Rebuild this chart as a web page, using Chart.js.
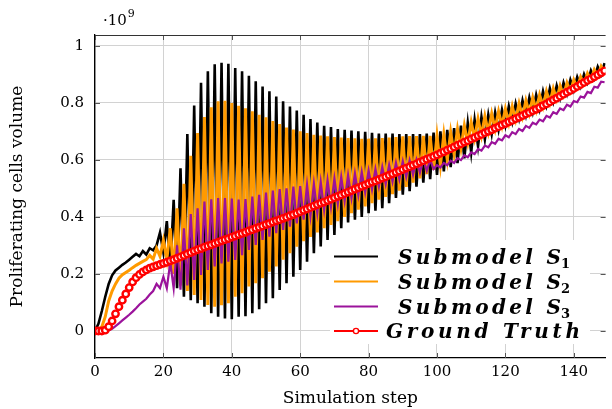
<!DOCTYPE html>
<html>
<head>
<meta charset="utf-8">
<script src="https://cdn.jsdelivr.net/npm/chart.js@4.4.1/dist/chart.umd.min.js"></script>
<style>
  html, body { margin: 0; padding: 0; background: #fff; }
  #wrap { width: 612px; height: 409px; }
</style>
</head>
<body>
<div id="wrap"><canvas id="chart" width="612" height="409"></canvas></div>
<script>
// values in units of 1e9, one per simulation step (0..149)
const s1 = [
  0, 0.025, 0.07, 0.12, 0.165, 0.195, 0.212, 0.222, 0.232, 0.24,
  0.25, 0.26, 0.27, 0.262, 0.28, 0.268, 0.29, 0.283, 0.3, 0.345,
  0.275, 0.385, 0.215, 0.46, 0.15, 0.57, 0.12, 0.69, 0.108, 0.79,
  0.097, 0.87, 0.085, 0.91, 0.062, 0.935, 0.05, 0.94, 0.044, 0.937,
  0.041, 0.922, 0.05, 0.91, 0.052, 0.895, 0.062, 0.875, 0.076, 0.857,
  0.097, 0.84, 0.115, 0.822, 0.144, 0.805, 0.167, 0.787, 0.19, 0.773,
  0.214, 0.758, 0.243, 0.743, 0.273, 0.731, 0.296, 0.719, 0.319, 0.715,
  0.337, 0.708, 0.36, 0.705, 0.38, 0.703, 0.39, 0.7, 0.4, 0.698,
  0.413, 0.695, 0.422, 0.692, 0.43, 0.692, 0.448, 0.692, 0.466, 0.69,
  0.478, 0.69, 0.49, 0.69, 0.506, 0.69, 0.52, 0.692, 0.532, 0.695,
  0.547, 0.7, 0.559, 0.705, 0.574, 0.711, 0.588, 0.72, 0.605, 0.729,
  0.625, 0.74, 0.648, 0.75, 0.672, 0.758, 0.69, 0.766, 0.705, 0.775,
  0.72, 0.787, 0.733, 0.797, 0.745, 0.808, 0.756, 0.818, 0.767, 0.828,
  0.778, 0.84, 0.791, 0.85, 0.804, 0.86, 0.817, 0.87, 0.831, 0.88,
  0.844, 0.89, 0.857, 0.9, 0.871, 0.913, 0.885, 0.926, 0.899, 0.939
];
const s2 = [
  0, 0, 0.015, 0.05, 0.105, 0.14, 0.165, 0.185, 0.197, 0.205,
  0.213, 0.222, 0.23, 0.237, 0.244, 0.25, 0.265, 0.252, 0.29, 0.262,
  0.318, 0.25, 0.36, 0.2, 0.43, 0.16, 0.516, 0.14, 0.614, 0.126,
  0.694, 0.109, 0.75, 0.091, 0.784, 0.085, 0.805, 0.09, 0.807, 0.097,
  0.799, 0.12, 0.789, 0.132, 0.781, 0.156, 0.77, 0.167, 0.758, 0.185,
  0.749, 0.208, 0.736, 0.226, 0.725, 0.25, 0.713, 0.273, 0.706, 0.295,
  0.7, 0.315, 0.694, 0.33, 0.688, 0.345, 0.685, 0.36, 0.682, 0.372,
  0.68, 0.385, 0.678, 0.4, 0.676, 0.413, 0.675, 0.425, 0.674, 0.437,
  0.674, 0.448, 0.675, 0.46, 0.676, 0.47, 0.678, 0.48, 0.68, 0.492,
  0.682, 0.505, 0.683, 0.52, 0.683, 0.535, 0.684, 0.55, 0.684, 0.565,
  0.685, 0.58, 0.69, 0.6, 0.698, 0.62, 0.708, 0.64, 0.72, 0.66,
  0.732, 0.675, 0.744, 0.685, 0.753, 0.697, 0.762, 0.708, 0.77, 0.719,
  0.779, 0.729, 0.788, 0.74, 0.798, 0.751, 0.808, 0.763, 0.818, 0.774,
  0.828, 0.786, 0.84, 0.799, 0.85, 0.812, 0.86, 0.826, 0.87, 0.839,
  0.88, 0.853, 0.891, 0.867, 0.903, 0.88, 0.916, 0.894, 0.928, 0.908
];
const s3 = [
  0, 0, 0, 0, 0.002, 0.008, 0.017, 0.027, 0.037, 0.047,
  0.057, 0.068, 0.08, 0.093, 0.103, 0.113, 0.128, 0.14, 0.165, 0.15,
  0.19, 0.15, 0.24, 0.15, 0.3, 0.145, 0.36, 0.16, 0.41, 0.179,
  0.43, 0.196, 0.454, 0.214, 0.462, 0.226, 0.466, 0.237, 0.466, 0.243,
  0.464, 0.249, 0.461, 0.266, 0.462, 0.284, 0.471, 0.302, 0.477, 0.319,
  0.485, 0.331, 0.492, 0.343, 0.497, 0.354, 0.5, 0.366, 0.506, 0.377,
  0.508, 0.39, 0.512, 0.403, 0.516, 0.414, 0.522, 0.425, 0.528, 0.436,
  0.534, 0.446, 0.54, 0.456, 0.546, 0.466, 0.552, 0.476, 0.557, 0.486,
  0.562, 0.496, 0.568, 0.506, 0.575, 0.515, 0.582, 0.524, 0.589, 0.532,
  0.595, 0.54, 0.598, 0.548, 0.6, 0.555, 0.602, 0.562, 0.6, 0.568,
  0.581, 0.573, 0.589, 0.581, 0.597, 0.589, 0.606, 0.599, 0.616, 0.609,
  0.626, 0.62, 0.638, 0.632, 0.65, 0.644, 0.662, 0.656, 0.674, 0.668,
  0.686, 0.679, 0.697, 0.69, 0.708, 0.701, 0.719, 0.712, 0.73, 0.724,
  0.741, 0.735, 0.754, 0.748, 0.767, 0.761, 0.78, 0.774, 0.793, 0.787,
  0.806, 0.802, 0.822, 0.818, 0.838, 0.834, 0.856, 0.853, 0.874, 0.872
];
const groundTruth = [
  0, 0, 0, 0.003, 0.015, 0.035, 0.06, 0.085, 0.108, 0.13,
  0.152, 0.172, 0.187, 0.198, 0.207, 0.214, 0.22, 0.225, 0.229, 0.233,
  0.237, 0.241, 0.246, 0.25, 0.255, 0.26, 0.265, 0.27, 0.275, 0.28,
  0.285, 0.289, 0.294, 0.298, 0.302, 0.307, 0.311, 0.316, 0.32, 0.324,
  0.329, 0.333, 0.338, 0.342, 0.346, 0.351, 0.355, 0.36, 0.364, 0.368,
  0.373, 0.377, 0.382, 0.386, 0.39, 0.395, 0.399, 0.404, 0.408, 0.413,
  0.418, 0.423, 0.428, 0.433, 0.438, 0.443, 0.448, 0.452, 0.457, 0.462,
  0.467, 0.472, 0.477, 0.482, 0.487, 0.492, 0.497, 0.502, 0.507, 0.512,
  0.517, 0.522, 0.526, 0.531, 0.536, 0.541, 0.546, 0.551, 0.556, 0.561,
  0.566, 0.571, 0.576, 0.581, 0.586, 0.592, 0.597, 0.602, 0.607, 0.612,
  0.617, 0.623, 0.628, 0.634, 0.639, 0.645, 0.651, 0.656, 0.662, 0.667,
  0.673, 0.678, 0.684, 0.689, 0.695, 0.7, 0.705, 0.711, 0.716, 0.722,
  0.727, 0.733, 0.738, 0.744, 0.749, 0.755, 0.761, 0.766, 0.772, 0.777,
  0.783, 0.79, 0.796, 0.803, 0.81, 0.816, 0.823, 0.83, 0.837, 0.843,
  0.85, 0.857, 0.864, 0.871, 0.878, 0.884, 0.891, 0.898, 0.905, 0.912
];

const xTicks = [0, 20, 40, 60, 80, 100, 120, 140];
const yTicks = [0, 0.2, 0.4, 0.6, 0.8, 1];
const yTickLabels = ['0', '0.2', '0.4', '0.6', '0.8', '1'];
const seriesNames = ['Submodel S', 'Submodel S', 'Submodel S', 'Ground Truth'];
const seriesSubs = ['1', '2', '3', ''];

const SERIF = '"DejaVu Serif", "Liberation Serif", serif';
const colors = ['#000000', '#ff9a00', '#9b139b', '#ff0000'];

function toPoints(arr) {
  return arr.map((v, i) => ({ x: i, y: v }));
}

// inward tick marks, frame, exponent label and legend
const decorations = {
  id: 'decorations',
  beforeDatasetsDraw(chart) {
    const { ctx, chartArea: a, scales: { x, y } } = chart;
    ctx.save();
    ctx.strokeStyle = '#555';
    ctx.lineWidth = 1;
    ctx.beginPath();
    xTicks.forEach(v => {
      const px = Math.round(x.getPixelForValue(v)) + 0.5;
      ctx.moveTo(px, a.bottom); ctx.lineTo(px, a.bottom - 5);
      ctx.moveTo(px, a.top); ctx.lineTo(px, a.top + 5);
    });
    yTicks.forEach(v => {
      const py = Math.round(y.getPixelForValue(v)) + 0.5;
      ctx.moveTo(a.left, py); ctx.lineTo(a.left + 5, py);
      ctx.moveTo(a.right, py); ctx.lineTo(a.right - 5, py);
    });
    ctx.stroke();
    ctx.restore();
  },
  afterDraw(chart) {
    const { ctx, chartArea: a } = chart;
    ctx.save();

    // top frame line
    ctx.strokeStyle = '#333';
    ctx.lineWidth = 1.2;
    ctx.beginPath();
    ctx.moveTo(a.left, a.top + 0.5);
    ctx.lineTo(a.right, a.top + 0.5);
    ctx.stroke();

    // exponent
    ctx.fillStyle = '#000';
    ctx.textBaseline = 'alphabetic';
    ctx.textAlign = 'left';
    ctx.font = '15px ' + SERIF;
    ctx.fillText('·10', 103, 25);
    const w = ctx.measureText('·10').width;
    ctx.font = '11px ' + SERIF;
    ctx.fillText('9', 103 + w + 1, 17);

    // legend
    const box = { left: 330, top: 240, right: 590, bottom: 344 };
    ctx.fillStyle = '#fff';
    ctx.fillRect(box.left, box.top, box.right - box.left, box.bottom - box.top);

    const rows = [256.5, 281.5, 306.5, 331];
    const textStart = [398, 398, 398, 386];
    const textEnd = [570, 570, 570, 580];
    const mainFont = 'italic bold 20px ' + SERIF;
    const subFont = 'bold 13px ' + SERIF;
    chart.data.datasets.forEach((ds, i) => {
      const ly = rows[i];
      ctx.strokeStyle = ds.borderColor;
      ctx.lineWidth = 2;
      ctx.beginPath();
      ctx.moveTo(334, ly);
      ctx.lineTo(378, ly);
      ctx.stroke();
      if (ds.pointRadius > 0) {
        ctx.beginPath();
        ctx.arc(356, ly, 2.6, 0, Math.PI * 2);
        ctx.fillStyle = '#fff';
        ctx.fill();
        ctx.lineWidth = 1.4;
        ctx.stroke();
      }
      const name = seriesNames[i];
      const sub = seriesSubs[i];
      ctx.fillStyle = '#000';
      ctx.letterSpacing = '0px';
      let subW = 0;
      if (sub) {
        ctx.font = subFont;
        subW = ctx.measureText(sub).width;
      }
      ctx.font = mainFont;
      const natural = ctx.measureText(name).width;
      const target = textEnd[i] - textStart[i] - subW;
      const spacing = Math.max(0, (target - natural) / (name.length - 1));
      ctx.letterSpacing = spacing.toFixed(2) + 'px';
      ctx.fillText(name, textStart[i], ly + 7);
      if (sub) {
        ctx.letterSpacing = '0px';
        ctx.font = subFont;
        ctx.fillText(sub, textEnd[i] - subW, ly + 11);
      }
    });
    ctx.restore();
  }
};

const ctx = document.getElementById('chart').getContext('2d');
new Chart(ctx, {
  type: 'line',
  data: {
    datasets: [
      { label: 'S1', data: toPoints(s1), borderColor: colors[0], borderWidth: 2.6, pointRadius: 0, order: 4 },
      { label: 'S2', data: toPoints(s2), borderColor: colors[1], borderWidth: 3, pointRadius: 0, order: 3 },
      { label: 'S3', data: toPoints(s3), borderColor: colors[2], borderWidth: 2.2, pointRadius: 0, order: 2 },
      {
        label: 'Ground Truth', data: toPoints(groundTruth), borderColor: colors[3], borderWidth: 3,
        pointRadius: 3.2, pointBorderWidth: 2.4, pointBackgroundColor: '#fff', pointBorderColor: colors[3], order: 1
      }
    ]
  },
  options: {
    responsive: false,
    animation: false,
    events: [],
    devicePixelRatio: 1,
    layout: { padding: { top: 35, left: 0, right: 0, bottom: 0 } },
    elements: { line: { tension: 0, borderJoinStyle: 'miter' } },
    plugins: { legend: { display: false }, tooltip: { enabled: false } },
    scales: {
      x: {
        type: 'linear',
        min: 0,
        max: 149.3,
        afterBuildTicks: s => { s.ticks = xTicks.map(v => ({ value: v })); },
        afterFit: s => { s.height = 51; },
        ticks: { font: { family: SERIF, size: 15 }, color: '#000', padding: 5, maxRotation: 0 },
        grid: { color: '#d2d2d2', lineWidth: 1, drawTicks: false },
        border: { display: true, color: '#000', width: 1.3 },
        title: {
          display: true, text: 'Simulation step', color: '#000',
          font: { family: SERIF, size: 17 }, padding: { top: 0, bottom: 0 }
        }
      },
      y: {
        type: 'linear',
        min: -0.0947,
        max: 1.0375,
        afterBuildTicks: s => { s.ticks = yTicks.map(v => ({ value: v })); },
        afterFit: s => { s.width = 95; },
        ticks: {
          font: { family: SERIF, size: 15 }, color: '#000', padding: 11,
          callback: (v, i) => yTickLabels[i]
        },
        grid: { color: '#d2d2d2', lineWidth: 1, drawTicks: false },
        border: { display: true, color: '#000', width: 1.3 },
        title: {
          display: true, text: 'Proliferating cells volume', color: '#000',
          font: { family: SERIF, size: 17 }, padding: { top: 7, bottom: 0 }
        }
      }
    }
  },
  plugins: [decorations]
});
</script>
</body>
</html>
